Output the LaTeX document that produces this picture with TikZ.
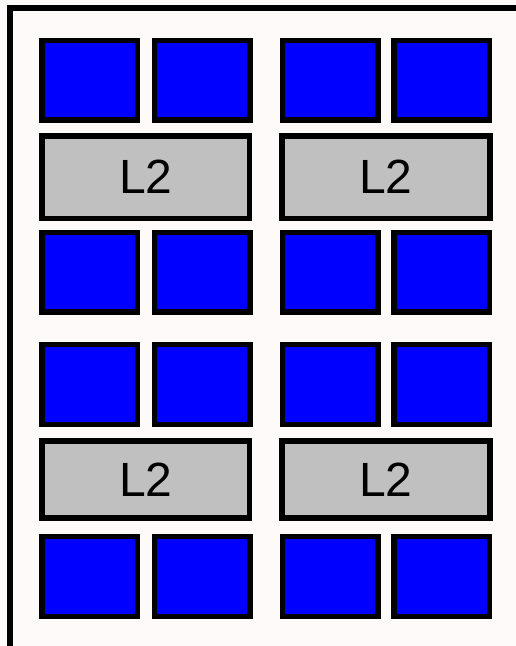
\documentclass[tikz,border=0pt]{standalone}
\usepackage{fontspec}
\setmainfont{Liberation Sans}
\definecolor{bgsnow}{RGB}{255,250,250}
\definecolor{coreblue}{RGB}{0,0,255}
\definecolor{lsilver}{RGB}{192,192,192}
\begin{document}
\begin{tikzpicture}[x=1pt,y=-1pt,
  core/.style={draw=black,line width=5.5pt,fill=coreblue,inner sep=0pt,
    minimum width=95.5pt,minimum height=79.8pt},
  ltwo/.style={draw=black,line width=5.5pt,fill=lsilver,inner sep=0pt,
    minimum width=207.7pt,font=\fontsize{48}{56}\selectfont},
  frame/.style={draw=black,line width=5.6pt}]
\useasboundingbox (0,0) rectangle (516,646);
\fill[bgsnow] (0,0) rectangle (516,646);
\clip (0,0) rectangle (516,646);
\draw[frame] (9.8,8) rectangle (560,680);
% group 1
\node[core] (a11) at (89.8,80.2) {};
\node[core] (a12) at (202,80.2) {};
\node[core] (a13) at (330.2,80.2) {};
\node[core] (a14) at (441.9,80.2) {};
\node[ltwo,minimum height=82.2pt] (l2a) at (145.8,177.2) {\raisebox{-1.5pt}{L2}};
\node[ltwo,minimum height=82.2pt] (l2b) at (386,177.2) {\raisebox{-1.5pt}{L2}};
\node[core] (a31) at (89.8,272.2) {};
\node[core] (a32) at (202,272.2) {};
\node[core] (a33) at (330.2,272.2) {};
\node[core] (a34) at (441.9,272.2) {};
% group 2
\node[core] (b11) at (89.8,384.4) {};
\node[core] (b12) at (202,384.4) {};
\node[core] (b13) at (330.2,384.4) {};
\node[core] (b14) at (441.9,384.4) {};
\node[ltwo,minimum height=77.2pt] (l2c) at (145.8,479.4) {\raisebox{-3pt}{L2}};
\node[ltwo,minimum height=77.2pt] (l2d) at (386,479.4) {\raisebox{-3pt}{L2}};
\node[core] (b31) at (89.8,576.5) {};
\node[core] (b32) at (202,576.5) {};
\node[core] (b33) at (330.2,576.5) {};
\node[core] (b34) at (441.9,576.5) {};
\end{tikzpicture}
\end{document}
